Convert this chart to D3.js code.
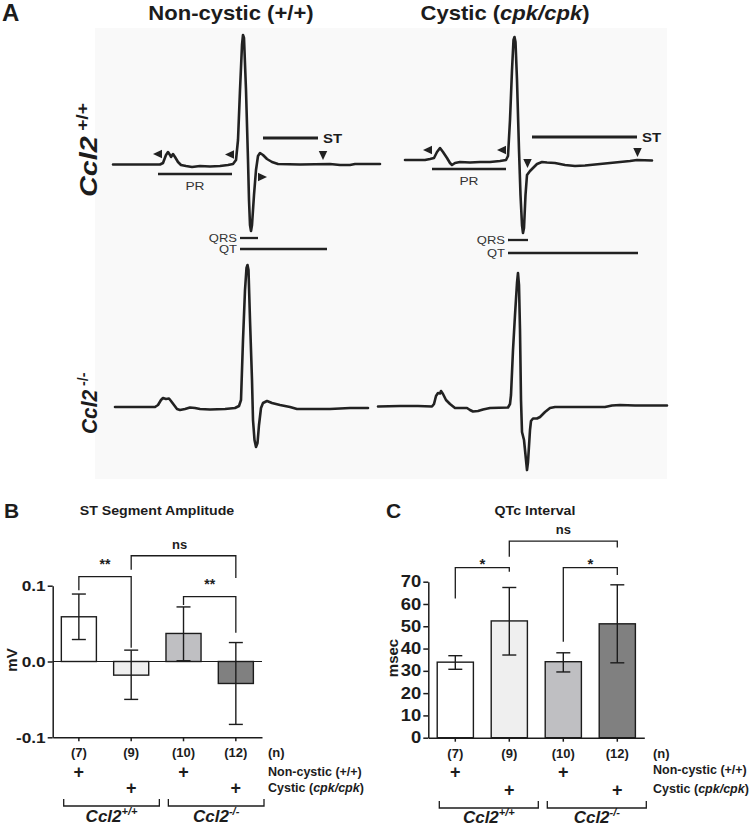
<!DOCTYPE html>
<html><head><meta charset="utf-8">
<script src="https://cdn.jsdelivr.net/npm/d3@7"></script>
<style>body{margin:0;background:#fff} svg{display:block} text{font-family:"Liberation Sans",Arial,Helvetica,sans-serif}</style>
</head><body><svg id="c" width="750" height="827"></svg>
<script>
// ---------------- DATA ----------------
// ECG traces: [time (a.u.), amplitude (a.u., + up)]
const ecgWtNon = [[0,0],[47,0],[50,1.5],[53,9.5],[55,12.5],[57,9.5],[58,7.5],[60,10.5],[62,7.5],[65,2.5],[68,-0.5],[73,-1.5],[79,-2.5],[87,-1.5],[97,-2],[107,-1.5],[115,-0.5],[120,0.5],[123,4.5],[125,24.5],[127,74.5],[129,119.5],[130,129.5],[131,126.5],[133,74.5],[135,4.5],[136,-35.5],[137,-60.5],[138,-66.5],[139,-60.5],[141,-30.5],[143,-5.5],[145,8.5],[147,11.5],[150,9.5],[154,5.5],[159,2.5],[165,0.5],[187,0],[217,0.5],[227,-0.5],[237,-0.5],[242,0.5],[267,0.5]];
const ecgWtCys = [[0,0],[20,0],[25,1],[29,2],[32,8],[35,12],[38,8],[42,2],[45,-3],[47,-5],[50,-3],[55,-2],[65,-2.5],[75,-2],[85,-2],[95,-1],[101,0],[103,4],[105,40],[107,90],[108.5,120],[109.5,123],[110.5,118],[112,80],[114,10],[115.5,-35],[117,-65],[118,-73],[119,-68],[120.5,-35],[122,-15],[125,-11],[128,-8],[132,-4],[137,-2],[142,-2.5],[150,-3],[160,-5],[170,-6],[180,-5.5],[195,-4],[210,-2.5],[225,-1],[232,0],[247,-0.5]];
const ecgKoNon = [[0,0],[40,0],[43,2],[46,7],[48,9],[51,8],[54,8.5],[56,6],[59,2],[62,-2],[65,-3],[70,-2],[75,-0.5],[80,-1],[85,-2],[95,-2.5],[110,-2],[120,-1],[124,1],[126,7],[128,67],[130,117],[131.5,139],[132.5,142],[133.5,137],[135,87],[137,27],[138,-13],[139.5,-33],[141,-40],[142.5,-36],[144,-18],[146,-1],[148,4],[152,6],[157,4],[165,2],[175,0],[182,-2],[215,-2],[225,-1.5],[235,-1],[253,-1]];
const ecgKoCys = [[0,0],[22,0.5],[40,0.5],[54,0],[56,2.5],[58,10.5],[60,13.5],[62,13],[63,15.5],[65,12.5],[68,6.5],[72,2.5],[77,-1.5],[89,-1.5],[92,-3.5],[95,-5],[100,-4.5],[105,-3],[112,-1.5],[130,-1],[132,2.5],[133,11.5],[135,56.5],[137,91.5],[139,123.5],[140,133.5],[141,121.5],[142,76.5],[143,6.5],[144,-25.5],[146,-33.5],[148,-53.5],[149,-63.5],[150,-55.5],[152,-23.5],[153,-14.5],[155,-12],[159,-12],[162,-10.5],[167,-5.5],[172,-1.5],[177,-0.5],[227,-0.5],[234,1],[242,1.5],[257,1],[277,1],[289,1]];

// Annotations on the +/+ traces (trace units)
const wtNonArrows = [[40,10.5,"left"],[112,10,"left"],[154,-12.5,"right"],[210,4.5,"down"]];
const wtCysArrows = [[18,10,"left"],[92,10,"left"],[122.5,-8,"down"],[232.5,3,"down"]];
const wtNonSegments = [["PR",45,119,-9.5],["ST",150,205,26.5],["QRS",127,145,-73.5],["QT",127,214,-84.5]];
const wtCysSegments = [["PR",27,101,-9],["ST",127,232,23],["QRS",103,123,-80],["QT",103,233,-93]];

// Bar charts
const nLabels = ["(7)","(9)","(10)","(12)"];
const nonCysticFlag = [1,0,1,0];
const cysticFlag = [0,1,0,1];
const barFills = ["#ffffff","#efefef","#bfbfc2","#808080"];
const stMean = [0.059,-0.018,0.037,-0.029];
const stLow  = [0.029,-0.050,0.001,-0.083];
const stHigh = [0.089,0.015,0.072,0.025];
const stTicks = [-0.1,0.0,0.1];
const qtMean = [33.9,52.4,34.1,51.1];
const qtLow  = [30.7,37.1,29.5,33.6];
const qtHigh = [36.8,67.4,38.1,68.6];
const qtTicks = [0,10,20,30,40,50,60,70];
const stBrackets = [
  {a:0,b:1,top:0.112,endA:0.094,endB:0.018,label:"**"},
  {a:1,b:3,top:0.1395,endA:0.121,endB:0.110,label:"ns"},
  {a:2,b:3,top:0.0855,endA:0.0746,endB:0.0378,label:"**"}];
const qtBrackets = [
  {a:0,b:1,top:76.3,endA:62.5,endB:74.5,label:"*"},
  {a:1,b:3,top:88.2,endA:81.2,endB:85.4,label:"ns"},
  {a:2,b:3,top:76.3,endA:43.1,endB:73.0,label:"*"}];

// ---------------- DRAW ----------------
const svg = d3.select("#c");
const INK = "#1c1c1c";

function txt(g, x, y, parts, o){
  o = o || {};
  const t = g.append("text")
    .attr("font-size", o.size || 13)
    .attr("font-weight", o.weight || "bold")
    .attr("text-anchor", o.anchor || "start")
    .attr("fill", o.fill || INK);
  if (o.dy) t.attr("dy", o.dy);
  if (typeof parts === "string") parts = [{t:parts}];
  parts.forEach(p => {
    const s = t.append("tspan").text(p.t);
    if (p.i) s.attr("font-style","italic");
    if (p.size) s.attr("font-size", p.size);
    if (p.dy !== undefined) s.attr("dy", p.dy);
  });
  let tr = `translate(${x},${y})`;
  if (o.rot) tr += ` rotate(${o.rot})`;
  if (o.sx) tr += ` scale(${o.sx},1)`;
  t.attr("transform", tr);
  return t;
}

// Panel A background
svg.append("rect").attr("x",95).attr("y",28).attr("width",572).attr("height",451).attr("fill","#f9f9f9");

txt(svg, 2, 21, "A", {size:24, sx:1.0});
txt(svg, 231, 20, "Non-cystic (+/+)", {size:21, anchor:"middle", sx:1.05});
txt(svg, 505, 20, [{t:"Cystic ("},{t:"cpk/cpk",i:true},{t:")"}], {size:21, anchor:"middle", sx:1.05});

txt(svg, 97, 197, [{t:"Ccl2",i:true},{t:" +/+",size:16,dy:-9}], {size:24, rot:-90, sx:1.2});
txt(svg, 97, 434, [{t:"Ccl2",i:true},{t:" -/-",size:15,dy:-9}], {size:22, rot:-90, sx:0.95});

function drawTrace(data, x0, base, arrows, segs){
  const x = d3.scaleLinear().domain([0,300]).range([x0, x0+300]);
  const y = d3.scaleLinear().domain([-100,150]).range([base+100, base-150]);
  const g = svg.append("g");
  g.append("path").datum(data)
    .attr("d", d3.line().x(d=>x(d[0])).y(d=>y(d[1])))
    .attr("fill","none").attr("stroke","#222").attr("stroke-width",2.6)
    .attr("stroke-linejoin","round").attr("stroke-linecap","round");
  if (arrows) arrows.forEach(([t,v,dir]) => {
    const tx = x(t), ty = y(v), L = 9, W = 8.5;
    let pts;
    if (dir==="left") pts=[[tx,ty],[tx+L,ty-W/2],[tx+L,ty+W/2]];
    else if (dir==="right") pts=[[tx,ty],[tx-L,ty-W/2],[tx-L,ty+W/2]];
    else pts=[[tx,ty],[tx-W/2,ty-L],[tx+W/2,ty-L]];
    g.append("path").attr("d","M"+pts.join("L")+"Z").attr("fill","#222");
  });
  if (segs) segs.forEach(([name,t0,t1,v]) => {
    g.append("line").attr("x1",x(t0)).attr("x2",x(t1)).attr("y1",y(v)).attr("y2",y(v))
      .attr("stroke","#222").attr("stroke-width", name==="ST"?2.8:2.3);
    if (name==="PR") txt(g, (x(t0)+x(t1))/2, y(v)+16, "PR", {size:11, weight:"normal", anchor:"middle", fill:"#333", sx:1.25});
    else if (name==="ST") txt(g, x(t1)+5, y(v)+5, "ST", {size:13, anchor:"start", sx:1.15});
    else txt(g, x(t0)-3, y(v)+3.5, name, {size:10, weight:"normal", anchor:"end", fill:"#333", sx:1.3});
  });
}
drawTrace(ecgWtNon, 113, 164.5, wtNonArrows, wtNonSegments);
drawTrace(ecgWtCys, 405, 160, wtCysArrows, wtCysSegments);
drawTrace(ecgKoNon, 115, 407);
drawTrace(ecgKoCys, 378, 406.5);

// -------- bar panels --------
function barPanel(cfg){
  const g = svg.append("g");
  const x = d3.scaleBand().domain(d3.range(4)).range(cfg.xr).paddingInner(0.33).paddingOuter(0.165);
  const y = d3.scaleLinear().domain(cfg.dom).range(cfg.yr);
  const cx = i => x(i) + x.bandwidth()/2;

  txt(g, cfg.letterX, 518, cfg.letter, {size:21});
  txt(g, cfg.titleX, 515, cfg.title, {size:13.5, anchor:"middle", sx:1.05});

  // bars
  g.selectAll("rect.bar").data(cfg.mean).join("rect").attr("class","bar")
    .attr("x",(d,i)=>x(i)).attr("width",x.bandwidth())
    .attr("y",d=>Math.min(y(d),y(cfg.base))).attr("height",d=>Math.abs(y(d)-y(cfg.base)))
    .attr("fill",(d,i)=>barFills[i]).attr("stroke",INK).attr("stroke-width",1.4);

  // zero line
  if (cfg.zero) g.append("line").attr("x1",cfg.xr[0]).attr("x2",cfg.xr[1]).attr("y1",y(0)).attr("y2",y(0))
    .attr("stroke",INK).attr("stroke-width",1.2);

  // error bars
  cfg.mean.forEach((m,i)=>{
    const c = cx(i), cap = 7;
    g.append("line").attr("x1",c).attr("x2",c).attr("y1",y(cfg.low[i])).attr("y2",y(cfg.high[i])).attr("stroke",INK).attr("stroke-width",1.4);
    [cfg.low[i],cfg.high[i]].forEach(v=>g.append("line").attr("x1",c-cap).attr("x2",c+cap).attr("y1",y(v)).attr("y2",y(v)).attr("stroke",INK).attr("stroke-width",1.4));
  });

  // axes
  const ay = g.append("g").attr("transform",`translate(${cfg.xr[0]},0)`)
    .call(d3.axisLeft(y).tickValues(cfg.ticks).tickFormat(cfg.fmt).tickSize(5).tickSizeOuter(0).tickPadding(2));
  const ax = g.append("g").attr("transform",`translate(0,${cfg.yr[0]})`)
    .call(d3.axisBottom(x).tickSize(4).tickSizeOuter(0).tickFormat(""));
  [ay,ax].forEach(a=>{ a.selectAll("path,line").attr("stroke",INK).attr("stroke-width",1.5); });
  ay.selectAll("text").attr("font-size",cfg.tickSize).attr("font-weight","bold").attr("fill",INK)
    .attr("font-family",'"Liberation Sans",Arial,sans-serif');
  ay.selectAll(".tick text").each(function(){
    const s = d3.select(this); const xx = +s.attr("x");
    s.attr("transform",`scale(${cfg.tickSx},1)`).attr("x", xx/cfg.tickSx);
  });

  txt(g, cfg.yLabX, cfg.yLabY, cfg.yLabel, {size:15, anchor:"middle", rot:-90});

  // brackets
  cfg.brackets.forEach(b=>{
    const xa = cx(b.a), xb = cx(b.b), yt = y(b.top);
    g.append("path").attr("d",`M${xa},${y(b.endA)}V${yt}H${xb}V${y(b.endB)}`)
      .attr("fill","none").attr("stroke",INK).attr("stroke-width",1.3);
    const lift = b.label==="ns" ? cfg.nsLift : cfg.starLift;
    txt(g, (xa+xb)/2 + (b.label==="ns"?cfg.nsShift:0), yt - lift, b.label, {size: b.label==="ns"?13:cfg.starSize, anchor:"middle"});
  });

  // n labels and genotype rows
  nLabels.forEach((n,i)=>{
    txt(g, cx(i), cfg.rowN, n, {size:13, anchor:"middle"});
    if (nonCysticFlag[i]) txt(g, cx(i), cfg.rowP1, "+", {size:18, anchor:"middle"});
    if (cysticFlag[i]) txt(g, cx(i), cfg.rowP2, "+", {size:18, anchor:"middle"});
  });
  txt(g, cfg.legX, cfg.rowN, "(n)", {size:13});
  txt(g, cfg.legX, cfg.rowL1, "Non-cystic (+/+)", {size:12.5});
  txt(g, cfg.legX, cfg.rowL2, [{t:"Cystic ("},{t:"cpk/cpk",i:true},{t:")"}], {size:12.5});

  // group brackets
  const step = x.step();
  [[0,1],[2,3]].forEach(([a,b],k)=>{
    const x0 = x(a) - step*0.165 + 11, x1 = x(b) + x.bandwidth() + step*0.165 + 2;
    g.append("path").attr("d",`M${x0},${cfg.grpY-7}V${cfg.grpY}H${x1}V${cfg.grpY-7}`)
      .attr("fill","none").attr("stroke",INK).attr("stroke-width",1.3);
    const lab = k===0 ? "+/+" : "-/-";
    txt(g, (x0+x1)/2, cfg.grpLab, [{t:"Ccl2",i:true},{t:lab,i:true,size:11,dy:-7}], {size:17, anchor:"middle"});
  });
}

barPanel({xr:[52.7,262], yr:[737.3,585.7], dom:[-0.1,0.1], base:0, zero:true,
  mean:stMean, low:stLow, high:stHigh, ticks:stTicks, fmt:d=>d.toFixed(1), tickSize:15, tickSx:1.15,
  letter:"B", letterX:4, title:"ST Segment Amplitude", titleX:157,
  yLabel:"mV", yLabX:17, yLabY:660, brackets:stBrackets, starLift:8, nsLift:7, nsShift:-4, starSize:14,
  rowN:757, rowP1:777.5, rowP2:794, rowL1:775.5, rowL2:791.5, legX:268, grpY:806, grpLab:822});

barPanel({xr:[428.3,644.3], yr:[737.7,581.7], dom:[0,70], base:0, zero:false,
  mean:qtMean, low:qtLow, high:qtHigh, ticks:qtTicks, fmt:d=>String(d), tickSize:16, tickSx:1.15,
  letter:"C", letterX:386, title:"QTc Interval", titleX:535,
  yLabel:"msec", yLabX:398, yLabY:658, brackets:qtBrackets, starLift:-1, nsLift:7, nsShift:0, starSize:15,
  rowN:758, rowP1:777.5, rowP2:796, rowL1:774, rowL2:793, legX:653, grpY:808, grpLab:823});
</script></body></html>
